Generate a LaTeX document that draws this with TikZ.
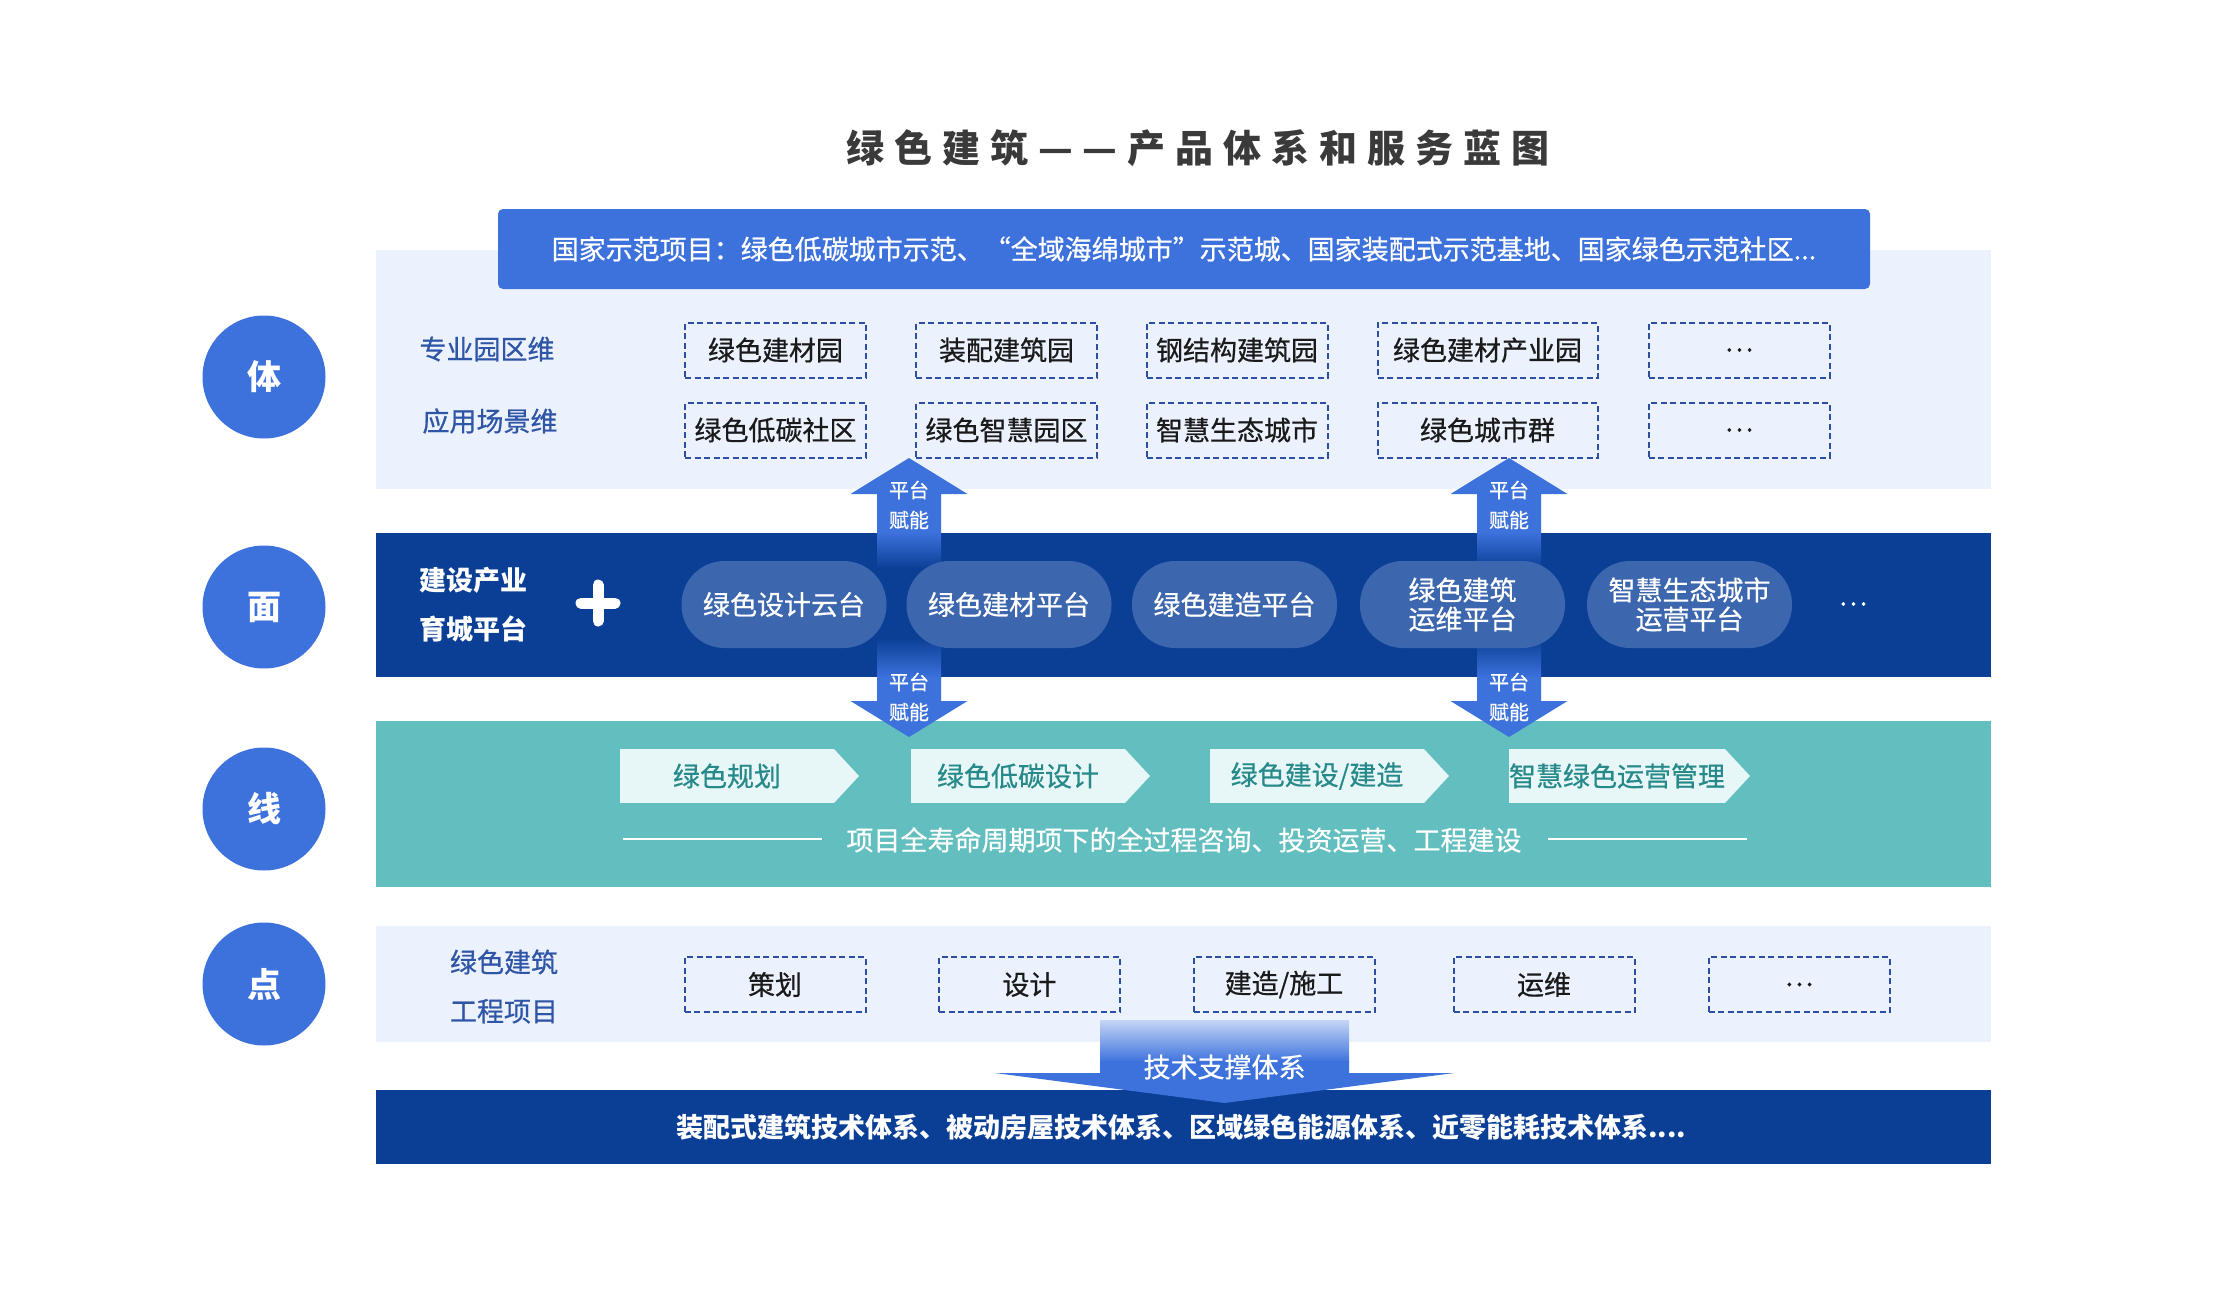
\documentclass[tikz,border=0pt]{standalone}
\usepackage{fontspec}
\setmainfont{Noto Sans CJK SC}
\newfontfamily\medf[FakeBold=0.6]{Noto Sans CJK SC}
\definecolor{cblue}{HTML}{3D72DD}
\definecolor{dblue}{HTML}{0B3F96}
\definecolor{lpanel}{HTML}{ECF2FD}
\definecolor{tealc}{HTML}{62BEBF}
\definecolor{chevc}{HTML}{E7F6F6}
\definecolor{chevt}{HTML}{27898A}
\definecolor{pillc}{HTML}{3C66AD}
\definecolor{lblc}{HTML}{2E55A6}
\definecolor{dashc}{HTML}{2C4FA3}
\definecolor{ttlc}{HTML}{3A3A3A}
\definecolor{txtblack}{HTML}{1A1A1A}
\newcommand\myfs[2]{\fontsize{#1}{#2}\selectfont}
\newcommand\tsp{\hspace{10pt}}
\begin{document}
\begin{tikzpicture}[x=1pt,y=-1pt,
  circ/.style={circle, fill=cblue, minimum size=123pt, inner sep=0pt, text=white, font=\myfs{34}{40}\bfseries},
  panel/.style={anchor=north west, inner sep=0pt, outer sep=0pt},
  lbltxt/.style={text=lblc, font=\medf\myfs{27}{32}, inner sep=0pt},
  dbox/.style={draw=dashc, dash pattern=on 6pt off 3.5pt, line width=2pt, minimum width=181pt, minimum height=55pt, inner sep=0pt, font=\medf\myfs{27}{32}, text=txtblack},
  pillbox/.style={fill=pillc, rounded corners=43pt, minimum width=205pt, minimum height=87pt, inner sep=0pt, text=white, font=\medf\myfs{27}{29}, align=center},
  chevbody/.style={fill=chevc, minimum width=214pt, minimum height=54pt, inner sep=0pt, outer sep=0pt, text=chevt, font=\medf\myfs{27}{32}},
  armtxt/.style={text=white, font=\medf\myfs{20}{24}, inner sep=0pt},
  whitetxt/.style={text=white, font=\medf\myfs{27}{32}, inner sep=0pt}
]
\useasboundingbox[fill=white] (0,0) rectangle (2214,1311);

% title
\node[font=\myfs{38}{44}\bfseries, text=ttlc, inner sep=0pt] (title) at (1198,148)
  {绿\tsp 色\tsp 建\tsp 筑\tsp —\tsp —\tsp 产\tsp 品\tsp 体\tsp 系\tsp 和\tsp 服\tsp 务\tsp 蓝\tsp 图};

% background panels and bands
\node[panel, fill=lpanel, minimum width=1615pt, minimum height=239pt] (pti) at (376,250) {};
\node[panel, fill=dblue, minimum width=1615pt, minimum height=144pt] (pmian) at (376,533) {};
\node[panel, fill=tealc, minimum width=1615pt, minimum height=166pt] (pxian) at (376,721) {};
\node[panel, fill=lpanel, minimum width=1615pt, minimum height=116pt] (pdian) at (376,926) {};
\node[panel, fill=dblue, minimum width=1615pt, minimum height=74pt] (pbot) at (376,1090) {};

% banner
\node[panel, fill=cblue, rounded corners=5pt, minimum width=1372pt, minimum height=80pt, text=white, font=\medf\myfs{27}{32}] (banner) at (498,209)
  {国家示范项目：绿色低碳城市示范、“全域海绵城市”示范城、国家装配式示范基地、国家绿色示范社区...};

% circles
\node[circ] (c1) at (264,377) {体};
\node[circ] (c2) at (264,607) {面};
\node[circ] (c3) at (264,809) {线};
\node[circ] (c4) at (264,984) {点};

% platform arrows (up and down)
\foreach \ax/\nm in {909/a,1509/b}{
  \shade[top color=cblue, bottom color=dblue] (\ax-32,532) rectangle (\ax+32,568);
  \fill[cblue] (\ax-32,533) -- (\ax-32,494) -- (\ax-58.5,494) -- (\ax,458) -- (\ax+58.5,494) -- (\ax+32,494) -- (\ax+32,533) -- cycle;
  \node[armtxt] (up\nm1) at (\ax,490) {平台};
  \node[armtxt] (up\nm2) at (\ax,520) {赋能};
  \shade[top color=dblue, bottom color=cblue] (\ax-32,638) rectangle (\ax+32,678);
  \fill[cblue] (\ax-32,677) -- (\ax-32,701) -- (\ax-58.5,701) -- (\ax,737) -- (\ax+58.5,701) -- (\ax+32,701) -- (\ax+32,677) -- cycle;
  \node[armtxt] (dn\nm1) at (\ax,682) {平台};
  \node[armtxt] (dn\nm2) at (\ax,712) {赋能};
}

% big support arrow
\shade[top color=cblue!30, bottom color=cblue] (1100,1020) rectangle (1349,1062);
\fill[cblue] (1100,1061) -- (1100,1073) -- (995,1073) -- (1224.5,1103) -- (1454,1073) -- (1349,1073) -- (1349,1061) -- cycle;
\node[whitetxt] (tech) at (1224.5,1067) {技术支撑体系};

% 体 row labels and boxes
\node[lbltxt] (l1) at (487,349) {专业园区维};
\node[lbltxt] (l2) at (490,421) {应用场景维};
\node[dbox] (a1) at (775.5,350) {绿色建材园};
\node[dbox] (a2) at (1006.5,350) {装配建筑园};
\node[dbox] (a3) at (1237,350) {钢结构建筑园};
\node[dbox, minimum width=220pt] (a4) at (1487.5,350) {绿色建材产业园};
\node[dbox] (a5) at (1739,350) {…};
\node[dbox] (b1) at (775.5,430) {绿色低碳社区};
\node[dbox] (b2) at (1006.5,430) {绿色智慧园区};
\node[dbox] (b3) at (1237,430) {智慧生态城市};
\node[dbox, minimum width=220pt] (b4) at (1487.5,430) {绿色城市群};
\node[dbox] (b5) at (1739,430) {…};

% 面 band
\node[whitetxt, align=center, font=\myfs{27}{49}\bfseries] (ml) at (473,605) {建设产业\\育城平台};
\coordinate (plus) at (598,603);
\draw[white, line width=11pt, line cap=round] ([xshift=-17pt]plus) -- ([xshift=17pt]plus);
\draw[white, line width=11pt, line cap=round] ([yshift=18pt]plus) -- ([yshift=-18pt]plus);
\node[pillbox] (m1) at (784,604.5) {绿色设计云台};
\node[pillbox] (m2) at (1009,604.5) {绿色建材平台};
\node[pillbox] (m3) at (1234.5,604.5) {绿色建造平台};
\node[pillbox] (m4) at (1462.5,604.5) {绿色建筑\\运维平台};
\node[pillbox] (m5) at (1689.5,604.5) {智慧生态城市\\运营平台};
\node[whitetxt] (mdots) at (1853,604) {…};

% 线 band
\foreach \cx/\nm/\tx in {727/1/{绿色规划}, 1018/2/{绿色低碳设计}, 1317/3/{绿色建设/建造}, 1617/4/{智慧绿色运营管理}}{
  \node[chevbody] (ch\nm) at (\cx,776) {\tx};
  \fill[chevc] (ch\nm.north east) -- ([xshift=25pt]ch\nm.east) -- (ch\nm.south east) -- cycle;
}
\node[whitetxt] (lt) at (1184,840) {项目全寿命周期项下的全过程咨询、投资运营、工程建设};
\coordinate (ll1) at (623,839);
\coordinate (ll2) at (822,839);
\coordinate (lr1) at (1548,839);
\coordinate (lr2) at (1747,839);
\draw[white, line width=1.5pt] (ll1) -- (ll2);
\draw[white, line width=1.5pt] (lr1) -- (lr2);

% 点 panel
\node[lbltxt, align=center, font=\medf\myfs{27}{49}] (pl) at (504,986.5) {绿色建筑\\工程项目};
\node[dbox] (d1) at (775,984.5) {策划};
\node[dbox] (d2) at (1029.5,984.5) {设计};
\node[dbox] (d3) at (1284,984.5) {建造/施工};
\node[dbox] (d4) at (1544,984.5) {运维};
\node[dbox] (d5) at (1799,984.5) {…};

% bottom band text
\node[whitetxt, font=\myfs{27}{32}\bfseries] (bt) at (1181,1127) {装配式建筑技术体系、被动房屋技术体系、区域绿色能源体系、近零能耗技术体系....};
\end{tikzpicture}
\end{document}
